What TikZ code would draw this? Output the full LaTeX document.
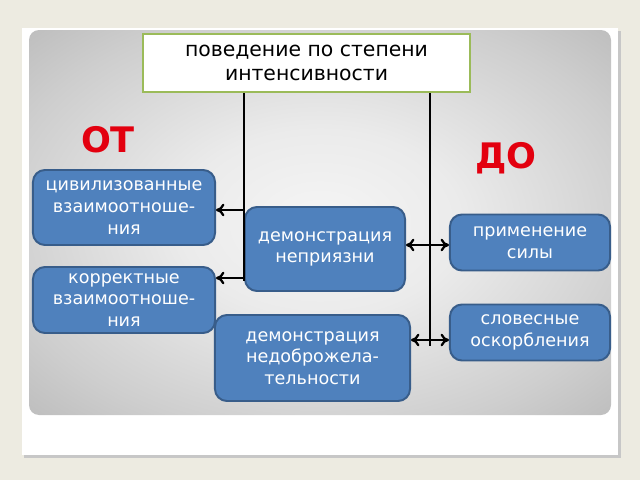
\documentclass[tikz,border=0pt]{standalone}
\usepackage{fontspec}
\setmainfont{DejaVu Sans}
\usetikzlibrary{arrows.meta,positioning}
\definecolor{boxblue}{HTML}{4F81BD}
\definecolor{boxline}{HTML}{385D8A}
\definecolor{titleline}{HTML}{9BBB59}
\definecolor{pagebg}{HTML}{EDEBE1}
\definecolor{otred}{HTML}{E3000F}
\definecolor{panelmid}{HTML}{F5F5F5}
\definecolor{panelin}{HTML}{EBEBEB}
\definecolor{paneltop}{HTML}{CECECE}
\definecolor{paneledge}{HTML}{B0B0B0}
\definecolor{panelcorner}{HTML}{959595}
\pgfdeclareradialshading{panelshade}{\pgfpoint{0bp}{0bp}}{color(0bp)=(panelmid); color(12bp)=(panelin);
  color(28bp)=(paneltop); color(42bp)=(paneledge); color(50bp)=(panelcorner)}

\begin{document}
\begin{tikzpicture}[x=0.025cm,y=-0.025cm,
    box/.style={draw=boxline,line width=1.4pt,fill=boxblue,rounded corners=0.3cm,
      text=white,align=center,inner sep=0pt,font=\fontsize{12.5}{15.5}\selectfont},
    trunk/.style={line width=1.6pt,black},
    bigword/.style={text=otred,font=\fontsize{25}{25}\bfseries}]
  \fill[pagebg] (0,0) rectangle (640,480);
  \useasboundingbox (0,0) rectangle (640,480);
  % slide card and grey panel
  \fill[black!22] (24,31) rectangle (621,458);
  \fill[white] (22,28) rectangle (618,455);
  \shade[rounded corners=0.25cm,shading=panelshade] (29,30) rectangle (611,415);

  \node[draw=titleline,line width=1.4pt,fill=white,align=center,minimum width=8.175cm,minimum height=1.45cm,
        inner sep=0pt,font=\fontsize{14.5}{17}\selectfont](title)at(306.5,63){поведение по степени\\интенсивности};

  \node[bigword](ot)at(108,140){ОТ};
  \node[bigword](do)at(506,158){ДО};

  \node[box,minimum width=4.55cm,minimum height=1.875cm](civ)at(124,207.5){цивилизованные\\взаимоотноше-\\ния};
  \node[box,minimum width=4.55cm,minimum height=1.65cm](korr)at(124,300){корректные\\взаимоотноше-\\ния};
  \node[box,minimum width=4cm,minimum height=2.1cm](dem1)at(325,249){демонстрация\\неприязни};
  \node[box,minimum width=4.875cm,minimum height=2.15cm](dem2)at(312.5,358){демонстрация\\недоброжела-\\тельности};
  \node[box,minimum width=4cm,minimum height=1.4cm](sila)at(530,242.5){применение\\силы};
  \node[box,minimum width=4cm,minimum height=1.4cm](slov)at(530,332.5){словесные\\оскорбления};

  % left trunk
  \coordinate (lbot) at (244,281);
  \coordinate (l1) at (244,210);
  \coordinate (l2) at (244,278);
  \draw[trunk] (title.south -| lbot) -- (lbot);
  \draw[trunk,-{To[length=6pt,width=9pt]}] (l1) -- (l1 -| civ.east);
  \draw[trunk,-{To[length=6pt,width=9pt]}] (l2) -- (l2 -| korr.east);

  % right trunk
  \coordinate (rbot) at (430,346);
  \coordinate (r1) at (430,245);
  \coordinate (r2) at (430,340);
  \draw[trunk] (title.south -| rbot) -- (rbot);
  \draw[trunk,{To[length=6pt,width=9pt]}-{To[length=6pt,width=9pt]}] (r1 -| dem1.east) -- (r1 -| sila.west);
  \draw[trunk,{To[length=6pt,width=9pt]}-{To[length=6pt,width=9pt]}] (r2 -| dem2.east) -- (r2 -| slov.west);
\end{tikzpicture}
\end{document}
